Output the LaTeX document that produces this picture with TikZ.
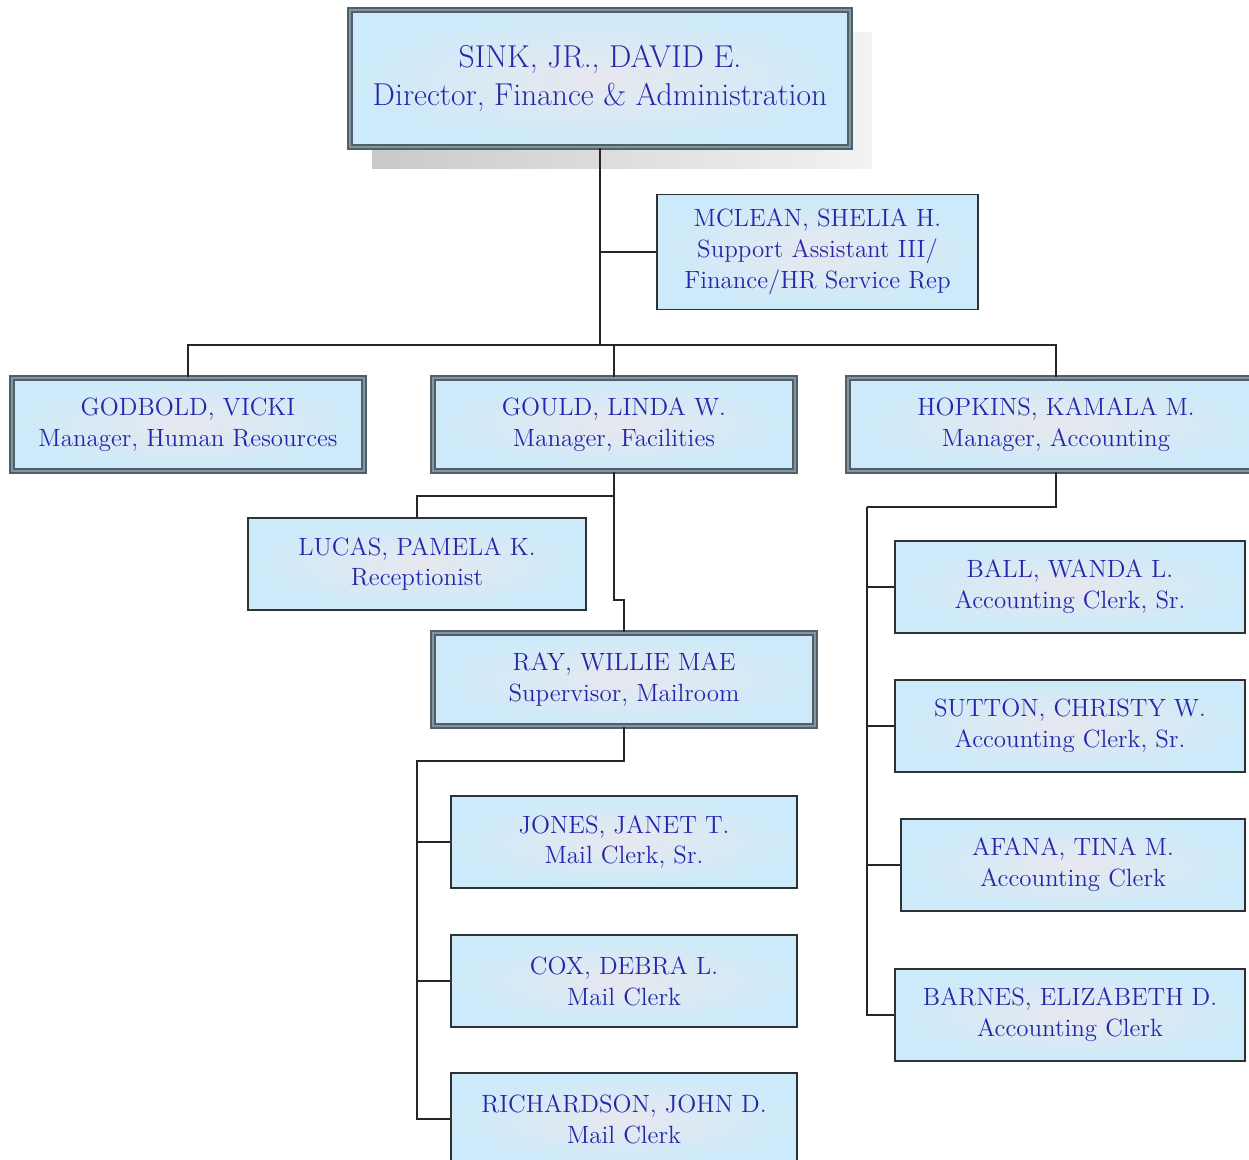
\documentclass[tikz,border=0pt]{standalone}
\usetikzlibrary{shadows}

\definecolor{namecol}{RGB}{38,38,170}
\definecolor{boxblue}{RGB}{204,234,250}
\definecolor{boxmid}{RGB}{232,232,238}
\definecolor{edgecol}{RGB}{45,50,55}
\definecolor{slate}{RGB}{80,95,105}
\definecolor{slatelight}{RGB}{130,150,160}

\tikzset{
  person/.style={rectangle, draw=edgecol, line width=0.9pt,
    inner color=boxmid, outer color=boxblue, text=namecol,
    align=center, font=\fontsize{14.2}{17.6}\selectfont,
    minimum height=1.84cm, inner sep=0pt},
  manager/.style={person, draw=slate, double=slatelight,
    double distance=1.2pt, line width=1pt},
  link/.style={draw=black!85, line width=1.1pt},
  trunk/.style={link, line width=1.7pt},
}

\begin{document}
\begin{tikzpicture}[x=0.02cm, y=-0.02cm]
  \useasboundingbox (0,0) rectangle (1249,1160);

  \node [manager, minimum width=10cm, minimum height=2.74cm,
    font=\fontsize{18}{21.5}\selectfont,
    general shadow={shadow xshift=0.44cm, shadow yshift=-0.44cm,
      left color=gray!42, right color=gray!10}] (sink) at (600,78.5)
    {SINK, JR., DAVID E.\\Director, Finance \& Administration};
  \node [person, minimum width=6.42cm, minimum height=2.3cm] (mclean) at (817.5,252)
    {MCLEAN, SHELIA H.\\Support Assistant III/\\Finance/HR Service Rep};

  \node [manager, minimum width=7.04cm, minimum height=1.86cm] (godbold) at (188,424.5)
    {GODBOLD, VICKI\\Manager, Human Resources};
  \node [manager, minimum width=7.24cm, minimum height=1.86cm] (gould) at (614,424.5)
    {GOULD, LINDA W.\\Manager, Facilities};
  \node [manager, minimum width=8.32cm, minimum height=1.86cm] (hopkins) at (1056,424.5)
    {HOPKINS, KAMALA M.\\Manager, Accounting};

  \node [person, minimum width=6.76cm] (lucas) at (417,564)
    {LUCAS, PAMELA K.\\Receptionist};
  \node [manager, minimum width=7.64cm, minimum height=1.86cm] (ray) at (624,679.5)
    {RAY, WILLIE MAE\\Supervisor, Mailroom};
  \node [person, minimum width=6.92cm] (jones) at (624,842)
    {JONES, JANET T.\\Mail Clerk, Sr.};
  \node [person, minimum width=6.92cm] (cox) at (624,981)
    {COX, DEBRA L.\\Mail Clerk};
  \node [person, minimum width=6.92cm] (rich) at (624,1119)
    {RICHARDSON, JOHN D.\\Mail Clerk};

  \node [person, minimum width=7cm] (ball) at (1070,587)
    {BALL, WANDA L.\\Accounting Clerk, Sr.};
  \node [person, minimum width=7cm] (sutton) at (1070,726)
    {SUTTON, CHRISTY W.\\Accounting Clerk, Sr.};
  \node [person, minimum width=6.88cm] (afana) at (1073,865)
    {AFANA, TINA M.\\Accounting Clerk};
  \node [person, minimum width=7cm] (barnes) at (1070,1015)
    {BARNES, ELIZABETH D.\\Accounting Clerk};

  \coordinate (bus) at (600,345);
  \draw [trunk] (sink.south) -- (sink |- bus);
  \draw [trunk] (sink |- mclean) -- (mclean.west);
  \draw [link] (godbold.north) -- (godbold |- bus) -- (hopkins |- bus) -- (hopkins.north);
  \draw [link] (gould |- bus) -- (gould.north);

  \coordinate (lucasjoin) at (614,496);
  \coordinate (rayjog) at (614,600);
  \draw [link] (gould.south) -- (lucasjoin) -| (lucas.north);
  \draw [link] (lucasjoin) -- (rayjog) -| (ray.north);

  \coordinate (mailbus) at (417,761);
  \draw [link] (ray.south) |- (mailbus) -- (mailbus |- rich) -- (rich.west);
  \foreach \n in {jones,cox}
    \draw [link] (mailbus |- \n) -- (\n.west);

  \coordinate (acctbus) at (867,507);
  \draw [trunk] (hopkins.south) |- (acctbus);
  \draw [link] (acctbus) -- (acctbus |- barnes) -- (barnes.west);
  \foreach \n in {ball,sutton,afana}
    \draw [link] (acctbus |- \n) -- (\n.west);
\end{tikzpicture}
\end{document}
